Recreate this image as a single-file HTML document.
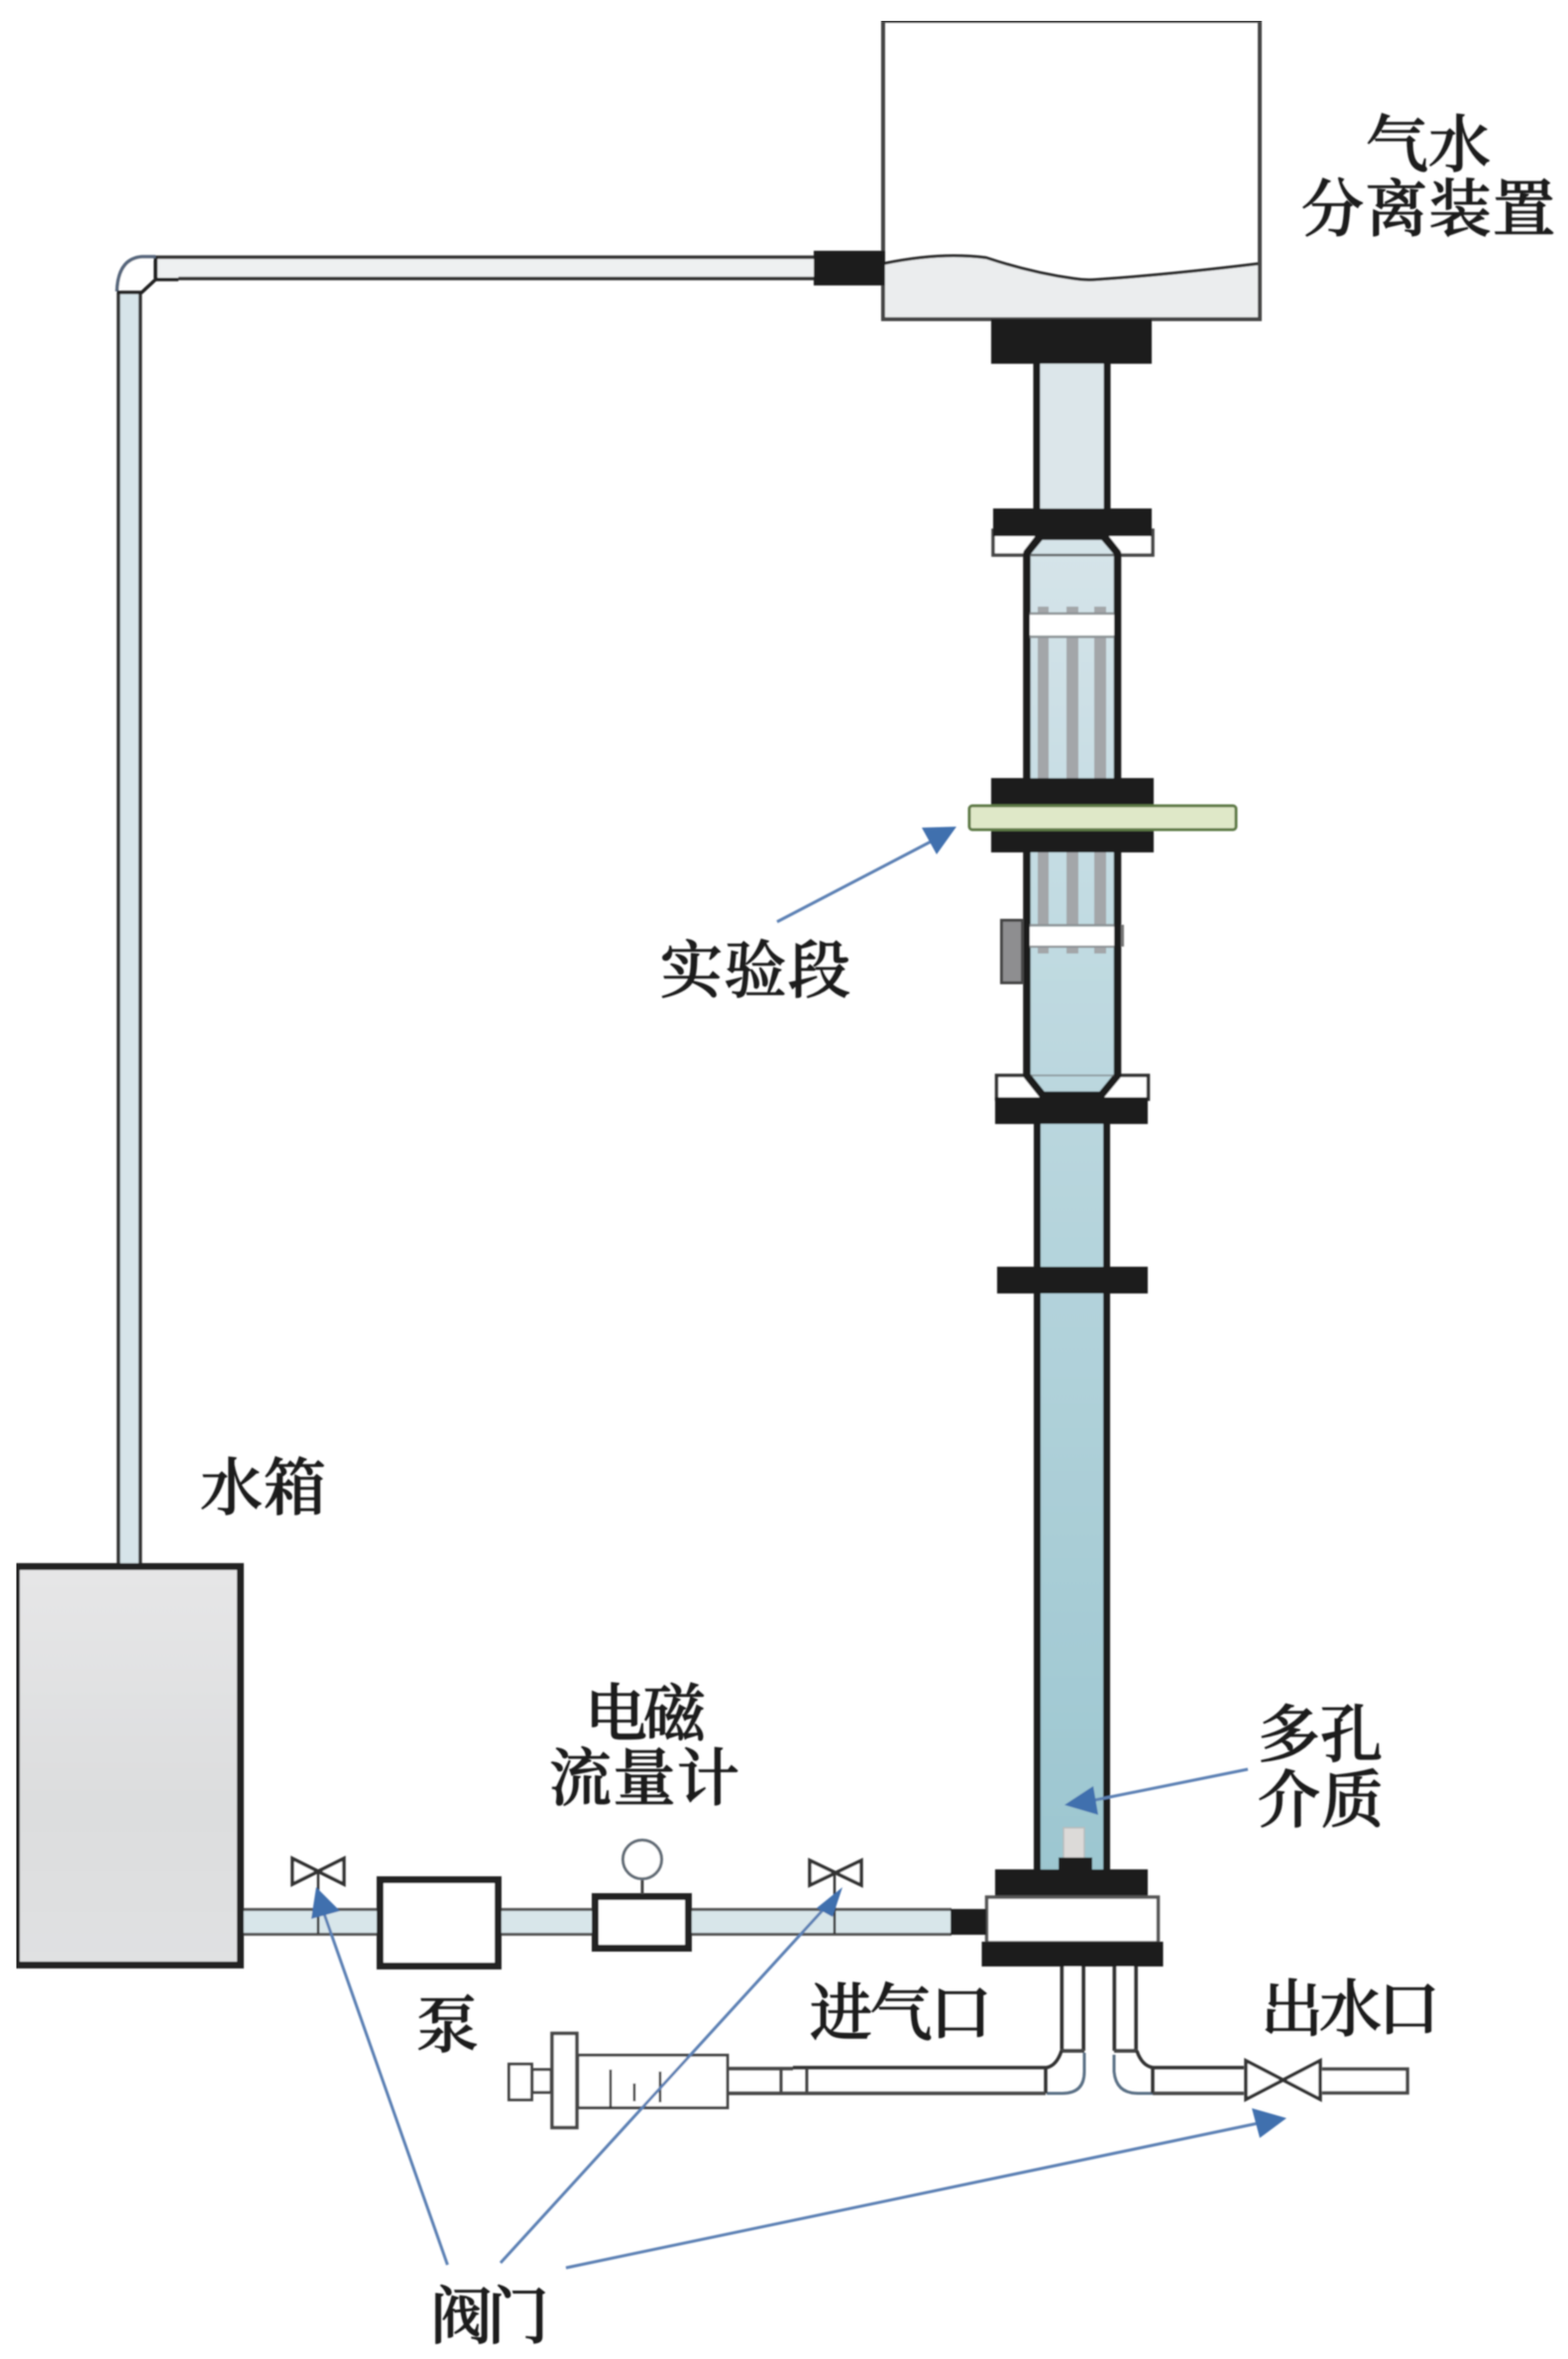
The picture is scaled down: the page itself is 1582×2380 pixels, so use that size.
<!DOCTYPE html>
<html lang="zh">
<head>
<meta charset="utf-8">
<title>实验装置示意图</title>
<style>
html,body{margin:0;padding:0;background:#fff;}
svg{display:block;}
text{font-family:"Liberation Serif","Noto Serif CJK SC",serif;font-size:63px;font-weight:500;fill:#1a1a1a;stroke:#1a1a1a;stroke-width:1.1px;}
</style>
</head>
<body>
<svg xmlns="http://www.w3.org/2000/svg" width="1582" height="2380" viewBox="0 0 1582 2380">
<defs>
<linearGradient id="w" gradientUnits="userSpaceOnUse" x1="0" y1="367" x2="0" y2="1890">
<stop offset="0" stop-color="#dfe8ec"/><stop offset=".35" stop-color="#c2dbe2"/><stop offset="1" stop-color="#9cc6d0"/>
</linearGradient>
<linearGradient id="t" gradientUnits="userSpaceOnUse" x1="0" y1="1577" x2="0" y2="1986">
<stop offset="0" stop-color="#e6e6e7"/><stop offset=".6" stop-color="#dcddde"/><stop offset="1" stop-color="#e0e1e2"/>
</linearGradient>
<filter id="b" x="0" y="0" width="100%" height="100%"><feGaussianBlur stdDeviation="0.75"/></filter>
</defs>
<rect width="1582" height="2380" fill="#fff"/>
<g filter="url(#b)">
<!-- return pipe -->
<rect x="120" y="295" width="21" height="1284" fill="#d6e4e9"/>
<path d="M119.500 295V1579M141.500 295V1579" stroke="#333" stroke-width="3.500" fill="none"/>
<rect x="157" y="260" width="667" height="20" fill="#eef0f1"/>
<path d="M155 259.500H824M180 281H824" stroke="#333" stroke-width="3.500" fill="none"/>
<path d="M157 259V281" stroke="#222" stroke-width="4"/>
<path d="M157 259H143Q119 261 118 294" stroke="#56667c" stroke-width="3.500" fill="#fff"/>
<path d="M118 295H143L157 282H180" stroke="#222" stroke-width="3.500" fill="none"/>
<!-- separator tank -->
<path d="M891 266Q930 258 962 258Q980 258 995 259Q1040 275 1083 281Q1095 283 1107 282Q1180 277 1270 266V322H891Z" fill="#ebedee"/>
<path d="M891 266Q930 258 962 258Q980 258 995 260Q1040 275 1083 281Q1095 283 1107 282Q1180 277 1270 266" fill="none" stroke="#2a2a2a" stroke-width="3"/>
<rect x="891" y="21" width="380" height="301" fill="none" stroke="#444" stroke-width="4"/>
<rect x="821" y="253" width="72" height="35" fill="#1a1a1a"/>
<rect x="1000" y="322" width="162" height="45" fill="#1a1a1a"/>
<!-- upper pipe -->
<rect x="1046" y="367" width="71" height="150" fill="#dce6ea"/>
<path d="M1046 367V515M1117 367V515" stroke="#1a1a1a" stroke-width="7" fill="none"/>
<!-- upper flange -->
<rect x="1002" y="535" width="161" height="25" fill="#fff" stroke="#444" stroke-width="3.500"/>
<!-- lower flange white -->
<rect x="1005.500" y="1085" width="153" height="24" fill="#fff" stroke="#333" stroke-width="3.500"/>
<!-- expansion body -->
<path d="M1050 541L1036 558V1085L1052 1105H1111L1127.500 1085V558L1113 541Z" fill="url(#w)" stroke="#1a1a1a" stroke-width="7.500" stroke-linejoin="round"/>
<path d="M1040 560H1124" stroke="#333" stroke-width="2.500" opacity=".7"/>
<path d="M1040 1085H1124" stroke="#666" stroke-width="2" opacity=".5"/>
<!-- rods -->
<g fill="#a3a6a9">
<rect x="1047" y="612" width="11" height="8"/><rect x="1076" y="612" width="12" height="8"/><rect x="1104" y="612" width="12" height="8"/>
<rect x="1047" y="643" width="11" height="143"/><rect x="1076" y="643" width="12" height="143"/><rect x="1104" y="643" width="12" height="143"/>
<rect x="1047" y="860" width="11" height="73"/><rect x="1076" y="860" width="12" height="73"/><rect x="1104" y="860" width="12" height="73"/>
<rect x="1047" y="953" width="11" height="9"/><rect x="1076" y="953" width="12" height="9"/><rect x="1104" y="953" width="12" height="9"/>
</g>
<rect x="1039" y="620" width="85" height="21" fill="#fff"/>
<path d="M1039 619H1124M1039 642.500H1124M1039 933.500H1124M1039 955H1124" stroke="#8f9497" stroke-width="2.500" fill="none"/>
<rect x="1039" y="935" width="85" height="19" fill="#fff"/>
<rect x="1010.500" y="928.500" width="21" height="63" fill="#8e8e90" stroke="#444" stroke-width="3"/>
<rect x="1131" y="933" width="3" height="22" fill="#777"/>
<rect x="1002" y="513" width="160" height="28" fill="#1a1a1a"/>
<path d="M1049 541L1036 558M1114 541L1127.500 558" stroke="#1a1a1a" stroke-width="7.500"/>
<!-- centre flange & green bar -->
<rect x="1000" y="785" width="164" height="75" fill="#1a1a1a"/>
<rect x="978" y="813" width="269" height="24" rx="3" fill="#dfe8c8" stroke="#5e7a46" stroke-width="3"/>
<rect x="1004" y="1107" width="154" height="27" fill="#1a1a1a"/>
<!-- lower pipe -->
<rect x="1046" y="1134" width="71" height="752" fill="url(#w)"/>
<path d="M1046.500 1134V1886M1116.500 1134V1886" stroke="#1a1a1a" stroke-width="7" fill="none"/>
<rect x="1006" y="1278" width="152" height="27" fill="#1a1a1a"/>
<!-- porous medium -->
<rect x="1073" y="1844" width="21" height="31" fill="#dcdad8" stroke="#b8bcbc" stroke-width="1.500"/>
<rect x="1068" y="1874" width="34" height="14" fill="#1a1a1a"/>
<!-- base -->
<rect x="1004" y="1886" width="154" height="27" fill="#1a1a1a"/>
<rect x="995.500" y="1914" width="173" height="46" fill="#fff" stroke="#555" stroke-width="3.500"/>
<rect x="990.500" y="1959" width="183" height="25" fill="#1a1a1a"/>
<!-- feed line -->
<rect x="245" y="1927" width="135" height="24" fill="#d8e6ea"/>
<rect x="506" y="1927" width="91" height="24" fill="#d8e6ea"/>
<rect x="698" y="1927" width="262" height="24" fill="#d8e6ea"/>
<path d="M245 1926.500H380M245 1951.500H380M506 1926.500H597M506 1951.500H597M698 1926.500H960M698 1951.500H960" stroke="#555" stroke-width="3" fill="none"/>
<rect x="959" y="1926" width="36" height="26" fill="#1a1a1a"/>
<!-- water tank -->
<rect x="16.500" y="1580.500" width="226" height="402" fill="url(#t)" stroke="#222" stroke-width="7"/>
<!-- pump -->
<rect x="383.500" y="1896.500" width="119" height="87" fill="#fff" stroke="#222" stroke-width="7"/>
<!-- flow meter -->
<rect x="600.500" y="1913.500" width="94" height="52" fill="#fff" stroke="#222" stroke-width="7"/>
<path d="M648 1897V1911" stroke="#444" stroke-width="3"/>
<circle cx="648" cy="1876" r="19.500" fill="#fff" stroke="#606a74" stroke-width="3"/>
<!-- small valves -->
<path d="M295 1875L347 1901V1875L295 1901Z" fill="#fff" stroke="#333" stroke-width="3.500" stroke-linejoin="miter"/>
<path d="M321 1888V1951" stroke="#333" stroke-width="2.500"/>
<path d="M817 1877L869 1902V1877L817 1902Z" fill="#fff" stroke="#333" stroke-width="3.500" stroke-linejoin="miter"/>
<path d="M842 1889V1951" stroke="#333" stroke-width="2.500"/>
<!-- gas and water tubes -->
<rect x="1071" y="1984" width="22" height="85" fill="#fff"/>
<rect x="1125" y="1984" width="21" height="85" fill="#fff"/>
<path d="M1071.500 1984V2069M1093 1984V2069M1124.500 1984V2069M1146 1984V2069" stroke="#333" stroke-width="4" fill="none"/>
<path d="M1070 2069H1094M1124 2069H1147" stroke="#444" stroke-width="4"/>
<path d="M1071 2069Q1066 2084 1056 2086H800M1147 2069Q1152 2084 1163 2086H1255" stroke="#333" stroke-width="3.500" fill="none"/>
<path d="M1094 2071V2090Q1094 2112 1072 2112H1056" stroke="#5a6f85" stroke-width="3" fill="none"/>
<path d="M1124 2073V2090Q1126 2112 1148 2112H1163" stroke="#5a6f85" stroke-width="3" fill="none"/>
<path d="M1055 2086V2112M1163 2086V2112" stroke="#333" stroke-width="3.500" fill="none"/>
<path d="M734 2112H1055M1163 2112H1255M734 2087H800" stroke="#444" stroke-width="3.500" fill="none"/>
<path d="M788 2087V2112M814 2087V2112" stroke="#444" stroke-width="3" fill="none"/>
<path d="M1334 2087.500H1420V2111.500H1334" fill="#fff" stroke="#444" stroke-width="3.500"/>
<path d="M1257 2079L1332 2118V2079L1257 2118Z" fill="#fff" stroke="#333" stroke-width="3.500"/>
<!-- syringe -->
<rect x="513.500" y="2082.500" width="23" height="36" fill="#fff" stroke="#444" stroke-width="3"/>
<rect x="537" y="2088" width="19" height="23" fill="#fff" stroke="#444" stroke-width="3"/>
<rect x="583" y="2073.500" width="151" height="53" fill="#fff" stroke="#444" stroke-width="3"/>
<rect x="557" y="2051.500" width="25" height="95" fill="#fff" stroke="#444" stroke-width="3.500"/>
<path d="M616 2088V2127M640 2102V2120M666 2090V2121" stroke="#333" stroke-width="2.500" fill="none"/>
<!-- blue arrows -->
<g stroke="#5b80b4" stroke-width="3" fill="none">
<path d="M451.500 2285L325 1925"/>
<path d="M505 2283L832 1925"/>
<path d="M571 2288L1270 2142"/>
<path d="M1259 1785L1100 1817"/>
<path d="M784 930L945 846"/>
</g>
<g fill="#406fae">
<path d="M319 1904L343 1928L314 1936Z"/>
<path d="M850 1904L840 1934L824 1925Z"/>
<path d="M1298 2137L1263 2127L1271 2157Z"/>
<path d="M1074 1821L1103 1802L1108 1831Z"/>
<path d="M965 834L930 835L945 862Z"/>
</g>
<!-- labels -->
<text x="1378" y="168" textLength="126" lengthAdjust="spacing">气水</text>
<text x="1313" y="233" textLength="256" lengthAdjust="spacing">分离装置</text>
<text x="666" y="1001" textLength="192" lengthAdjust="spacing">实验段</text>
<text x="202" y="1523" textLength="127" lengthAdjust="spacing">水箱</text>
<text x="590" y="1751" textLength="122" lengthAdjust="spacing">电磁</text>
<text x="554" y="1816" textLength="192" lengthAdjust="spacing">流量计</text>
<text x="420" y="2065">泵</text>
<text x="434" y="2359" textLength="120" lengthAdjust="spacing">阀门</text>
<text x="817" y="2053" textLength="184" lengthAdjust="spacing">进气口</text>
<text x="1272" y="2049" textLength="181" lengthAdjust="spacing">出水口</text>
<text x="1269" y="1772" textLength="126" lengthAdjust="spacing">多孔</text>
<text x="1269" y="1838" textLength="127" lengthAdjust="spacing">介质</text>
</g>
</svg>
</body>
</html>
